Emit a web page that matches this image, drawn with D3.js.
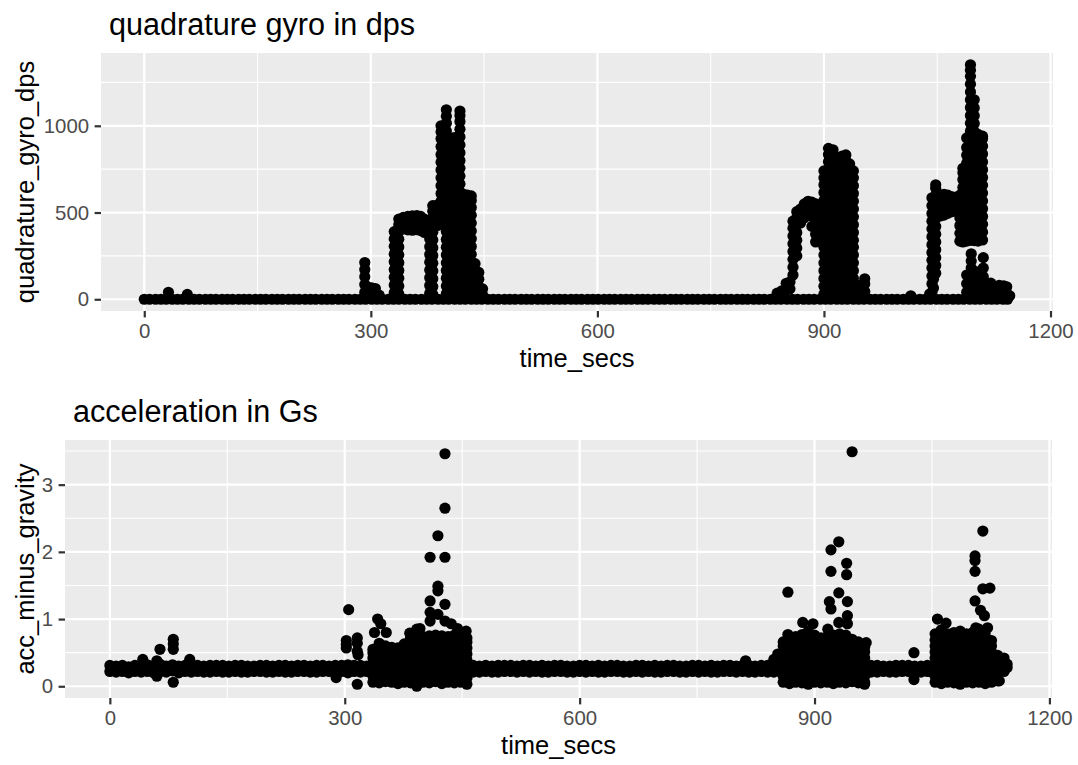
<!DOCTYPE html>
<html>
<head>
<meta charset="utf-8">
<script src="https://cdn.jsdelivr.net/npm/d3@7"></script>
<style>
  body { margin: 0; background: #fff; }
  svg { display: block; font-family: "Liberation Sans", Arial, sans-serif; }
</style>
</head>
<body>
<div id="chart"></div>
<script>
// ---- data (time in seconds) ----

// x tick labels shared by both panels
const timeTicks = [0, 300, 600, 900, 1200];
const gyroTicks = [0, 500, 1000];
const accTicks = [0, 1, 2, 3];

// samples where the gyro reads 0 dps (the flat run along the bottom)
const gyroRestTimes = [0, 7, 15, 22, 29, 37, 44, 51, 59, 66, 73, 81, 88, 95, 103, 110, 117, 125, 132, 139,
  147, 154, 161, 169, 176, 183, 191, 198, 205, 213, 220, 227, 235, 242, 249, 257, 264, 271, 279, 286,
  293, 301, 308, 315, 323, 330, 337, 345, 352, 359, 367, 374, 381, 389, 396, 403, 411, 418, 425, 433,
  440, 447, 455, 462, 469, 477, 484, 491, 499, 506, 513, 521, 528, 535, 543, 550, 557, 565, 572, 579,
  587, 594, 601, 609, 616, 623, 631, 638, 645, 653, 660, 667, 675, 682, 689, 697, 704, 711, 719, 726,
  733, 741, 748, 755, 763, 770, 777, 785, 792, 799, 807, 814, 821, 829, 836, 843, 851, 858, 865, 873,
  880, 887, 895, 902, 909, 917, 924, 931, 939, 946, 953, 961, 968, 975, 983, 990, 997, 1005, 1012, 1019,
  1027, 1034, 1041, 1049, 1056, 1063, 1071, 1078, 1085, 1093, 1100, 1107, 1115, 1122, 1129, 1137, 1143];

// [time, dps readings at that time ...]
const gyroBlips = [[32, 40], [57, 28], [1015, 20]];

const gyroBurst1 = [
  [292, 40, 85, 130, 172, 212], [296, 35, 70], [301, 30, 66], [306, 28, 62], [311, 24],
  [331, 38, 82, 127, 171, 216, 260, 305, 348, 390],
  [337, 30, 76, 121, 166, 211, 256, 301, 346, 391, 430, 462],
  [343, 405, 448, 472], [349, 400, 442, 478], [355, 398, 440, 481], [361, 401, 443, 482],
  [366, 396, 438, 478], [371, 385, 425, 462],
  [378, 35, 80, 124, 169, 214, 258, 303, 347, 390, 430],
  [382, 28, 73, 118, 163, 208, 252, 297, 342, 386, 428, 470, 508, 540],
  [388, 425, 468, 510, 543],
  [393, 430, 475, 520, 565, 610, 655, 700, 745, 790, 835, 880, 925, 965, 1000],
  [400, 32, 76, 121, 166, 210, 255, 300, 345, 390, 434, 479, 524, 569, 613, 658, 703, 748, 792, 837, 882, 926, 970, 1015, 1055, 1092],
  [405, 25, 70, 115, 160, 205, 250, 295, 340, 385, 430, 475, 520, 565, 610, 655, 700, 745, 790, 835, 880, 920],
  [409, 30, 75, 120, 165, 210, 255, 300, 345, 390, 435, 480, 525, 570, 615, 660, 705, 750, 795, 840, 885, 930],
  [414, 28, 73, 118, 163, 208, 253, 298, 343, 388, 433, 478, 523, 568, 613, 658, 703, 748, 793, 838, 883, 935],
  [418, 35, 80, 125, 170, 215, 260, 305, 350, 395, 440, 485, 530, 575, 620, 665, 710, 755, 800, 845, 890, 935, 980, 1025, 1060, 1085],
  [423, 30, 75, 120, 165, 210, 255, 300, 345, 390, 435, 480, 525, 570, 605],
  [428, 26, 71, 116, 161, 206, 251, 296, 341, 386, 431, 476, 521, 566, 600],
  [433, 34, 79, 124, 169, 214, 259, 304, 349, 394, 439, 484, 529, 570, 596],
  [438, 30, 75, 120, 165, 205], [443, 28, 70, 115, 155], [448, 25, 60]
];

const gyroBurst2 = [
  [838, 35], [844, 48], [850, 55, 92], [855, 60, 100],
  [859, 140, 185, 230, 275, 320, 365, 410, 450],
  [864, 250, 295, 340, 385, 430, 470, 505],
  [869, 440, 480, 520], [874, 470, 510, 550], [879, 490, 530, 565], [884, 420, 480, 520, 560],
  [889, 330, 375, 420, 465, 510, 550], [894, 335, 378, 420, 462, 505, 545],
  [900, 30, 75, 120, 165, 210, 255, 300, 345, 390, 435, 480, 525, 570, 615, 660, 700, 740],
  [906, 28, 73, 118, 163, 208, 253, 298, 343, 388, 433, 478, 523, 568, 613, 658, 703, 748, 793, 835, 870],
  [912, 32, 77, 122, 167, 212, 257, 302, 347, 392, 437, 482, 527, 572, 617, 662, 707, 752, 797, 840, 862],
  [918, 26, 71, 116, 161, 206, 251, 296, 341, 386, 431, 476, 521, 566, 611, 656, 701, 746, 790, 812],
  [924, 30, 75, 120, 165, 210, 255, 300, 345, 390, 435, 480, 525, 570, 615, 660, 705, 750, 795, 825],
  [929, 34, 79, 124, 169, 214, 259, 304, 349, 394, 439, 484, 529, 574, 619, 664, 709, 754, 799, 832],
  [934, 28, 73, 118, 163, 208, 253, 298, 343, 388, 433, 478, 523, 568, 613, 658, 703, 748, 780],
  [939, 30, 75, 120, 165, 210, 255, 300, 340, 385, 430, 475, 520, 565, 610, 655, 700, 740],
  [948, 40, 80], [954, 45, 88, 118]
];

const gyroBurst3 = [
  [1040, 30], [1045, 65, 115, 150],
  [1043, 40, 90, 135, 180, 225, 270, 315, 360, 405, 450, 495, 540, 585],
  [1048, 150, 195, 240, 285, 330, 375, 420, 465, 510, 555, 600, 640, 660],
  [1054, 480, 525, 570, 600], [1059, 485, 530, 575, 605], [1064, 495, 540, 585, 600],
  [1070, 505, 550, 590], [1075, 520, 560, 588],
  [1080, 335, 380, 425, 470, 515, 560, 600],
  [1084, 330, 375, 420, 465, 510, 555, 600, 645, 690, 730, 755],
  [1089, 335, 380, 425, 470, 515, 560, 605, 650, 695, 740, 785, 830, 875, 930],
  [1094, 340, 385, 430, 475, 520, 565, 610, 655, 700, 745, 790, 835, 880, 925, 970, 1015, 1060, 1105, 1150, 1195, 1240, 1285, 1320, 1352],
  [1099, 338, 383, 428, 473, 518, 563, 608, 653, 698, 743, 788, 833, 878, 923, 968, 1013, 1058, 1103, 1150],
  [1104, 335, 380, 425, 470, 515, 560, 605, 650, 695, 740, 785, 830, 875, 920, 950],
  [1110, 342, 387, 432, 477, 522, 567, 612, 657, 702, 747, 792, 837, 882, 925, 940],
  [1089, 40, 90, 140], [1095, 40, 92, 140, 180, 220, 262], [1101, 45, 95, 130, 160],
  [1106, 40, 88], [1111, 42, 85, 130, 180, 240], [1116, 38, 90], [1121, 45, 93],
  [1127, 30, 62], [1132, 40, 80], [1138, 42, 78], [1142, 35, 72], [1146, 20]
];

// acceleration (G) : the resting band, [time, low, high]
const accRest = [
  [0, 0.22, 0.31], [8, 0.21, 0.30], [16, 0.22, 0.31], [24, 0.20, 0.29], [32, 0.22, 0.31], [40, 0.21, 0.30],
  [48, 0.22, 0.32], [56, 0.20, 0.30], [64, 0.22, 0.33], [72, 0.21, 0.30], [80, 0.23, 0.32], [88, 0.20, 0.30],
  [96, 0.22, 0.31], [104, 0.21, 0.31], [112, 0.22, 0.31], [120, 0.21, 0.30], [128, 0.21, 0.31], [136, 0.22, 0.31],
  [144, 0.21, 0.31], [152, 0.21, 0.30], [160, 0.22, 0.31], [168, 0.21, 0.31], [176, 0.21, 0.30], [184, 0.22, 0.30],
  [192, 0.22, 0.31], [200, 0.21, 0.31], [208, 0.21, 0.30], [216, 0.22, 0.31], [224, 0.21, 0.31], [232, 0.21, 0.30],
  [240, 0.22, 0.31], [248, 0.22, 0.31], [256, 0.21, 0.30], [264, 0.21, 0.31], [272, 0.22, 0.31], [280, 0.22, 0.30],
  [288, 0.21, 0.31], [296, 0.22, 0.31], [304, 0.20, 0.32], [312, 0.22, 0.31], [320, 0.21, 0.31], [328, 0.22, 0.30],
  [464, 0.21, 0.31], [472, 0.21, 0.30], [480, 0.22, 0.31], [488, 0.21, 0.30], [496, 0.21, 0.31], [504, 0.22, 0.31],
  [512, 0.22, 0.31], [520, 0.21, 0.30], [528, 0.22, 0.31], [536, 0.21, 0.31], [544, 0.22, 0.30], [552, 0.21, 0.31],
  [560, 0.21, 0.30], [568, 0.22, 0.31], [576, 0.22, 0.31], [584, 0.21, 0.30], [592, 0.21, 0.30], [600, 0.22, 0.31],
  [608, 0.21, 0.31], [616, 0.22, 0.30], [624, 0.21, 0.31], [632, 0.21, 0.30], [640, 0.22, 0.31], [648, 0.22, 0.31],
  [656, 0.21, 0.30], [664, 0.21, 0.30], [672, 0.22, 0.31], [680, 0.21, 0.31], [688, 0.22, 0.30], [696, 0.21, 0.31],
  [704, 0.21, 0.30], [712, 0.22, 0.31], [720, 0.22, 0.31], [728, 0.21, 0.30], [736, 0.21, 0.30], [744, 0.22, 0.31],
  [752, 0.21, 0.31], [760, 0.22, 0.30], [768, 0.21, 0.31], [776, 0.21, 0.30], [784, 0.22, 0.31], [792, 0.22, 0.31],
  [800, 0.21, 0.30], [808, 0.22, 0.31], [816, 0.21, 0.31], [824, 0.21, 0.30], [832, 0.22, 0.31], [840, 0.21, 0.31],
  [848, 0.21, 0.30], [856, 0.22, 0.31],
  [972, 0.21, 0.31], [980, 0.21, 0.31], [988, 0.22, 0.30], [996, 0.21, 0.30], [1004, 0.21, 0.31], [1012, 0.22, 0.31],
  [1020, 0.22, 0.31], [1028, 0.21, 0.30], [1036, 0.21, 0.30], [1044, 0.22, 0.31], [1050, 0.21, 0.30]
];

// [time, G readings at that time ...]
const accBlips = [
  [42, 0.40], [60, 0.15, 0.38], [64, 0.55], [81, 0.06, 0.55, 0.63, 0.70], [102, 0.40],
  [289, 0.13], [302, 0.57, 0.62, 0.68], [316, 0.03, 0.52, 0.64, 0.72], [317, 0.47],
  [812, 0.38], [848, 0.33, 0.40], [853, 0.41, 0.48], [1027, 0.10, 0.50]
];

const accBurst1 = [
  [336, 0.06, 0.15, 0.24, 0.33, 0.42, 0.50, 0.55],
  [344, 0.05, 0.14, 0.23, 0.32, 0.41, 0.50, 0.59, 0.64],
  [352, 0.07, 0.16, 0.25, 0.34, 0.43, 0.52, 0.60],
  [360, 0.06, 0.15, 0.24, 0.33, 0.42, 0.51, 0.58],
  [368, 0.04, 0.13, 0.22, 0.31, 0.40, 0.49, 0.57],
  [376, 0.06, 0.15, 0.24, 0.33, 0.42, 0.51, 0.60, 0.63],
  [384, 0.05, 0.14, 0.23, 0.32, 0.41, 0.50, 0.59, 0.68, 0.72],
  [392, 0.00, 0.08, 0.17, 0.26, 0.35, 0.44, 0.53, 0.62, 0.71],
  [400, 0.06, 0.15, 0.24, 0.33, 0.42, 0.51, 0.60, 0.69, 0.74],
  [408, 0.05, 0.14, 0.23, 0.32, 0.41, 0.50, 0.59, 0.68, 0.75],
  [416, 0.07, 0.16, 0.25, 0.34, 0.43, 0.52, 0.61, 0.70, 0.76],
  [424, 0.04, 0.13, 0.22, 0.31, 0.40, 0.49, 0.58, 0.67, 0.75],
  [432, 0.06, 0.15, 0.24, 0.33, 0.42, 0.51, 0.60, 0.69, 0.74],
  [440, 0.05, 0.14, 0.23, 0.32, 0.41, 0.50, 0.59, 0.68, 0.76],
  [448, 0.06, 0.15, 0.24, 0.33, 0.42, 0.51, 0.60, 0.69, 0.75],
  [456, 0.03, 0.12, 0.21, 0.30, 0.39, 0.48, 0.57, 0.66, 0.72]
];

const accBurst2 = [
  [860, 0.06, 0.15, 0.24, 0.33, 0.42, 0.51, 0.60, 0.66],
  [868, 0.04, 0.13, 0.22, 0.31, 0.40, 0.49, 0.58, 0.67, 0.72],
  [876, 0.06, 0.15, 0.24, 0.33, 0.42, 0.51, 0.60, 0.69, 0.74],
  [884, 0.05, 0.14, 0.23, 0.32, 0.41, 0.50, 0.59, 0.68, 0.77],
  [892, 0.03, 0.12, 0.21, 0.30, 0.39, 0.48, 0.57, 0.66, 0.75, 0.82],
  [900, 0.06, 0.15, 0.24, 0.33, 0.42, 0.51, 0.60, 0.69, 0.76],
  [908, 0.05, 0.14, 0.23, 0.32, 0.41, 0.50, 0.59, 0.68, 0.72],
  [916, 0.06, 0.15, 0.24, 0.33, 0.42, 0.51, 0.60, 0.69, 0.74],
  [924, 0.04, 0.13, 0.22, 0.31, 0.40, 0.49, 0.58, 0.67, 0.76],
  [932, 0.06, 0.15, 0.24, 0.33, 0.42, 0.51, 0.60, 0.69, 0.78],
  [940, 0.05, 0.14, 0.23, 0.32, 0.41, 0.50, 0.59, 0.68, 0.76],
  [948, 0.07, 0.16, 0.25, 0.34, 0.43, 0.52, 0.61, 0.70],
  [956, 0.05, 0.14, 0.23, 0.32, 0.41, 0.50, 0.59, 0.66],
  [964, 0.06, 0.15, 0.24, 0.33, 0.42, 0.51, 0.58]
];

const accBurst3 = [
  [1054, 0.06, 0.15, 0.24, 0.33, 0.42, 0.51, 0.60, 0.69, 0.78],
  [1062, 0.04, 0.13, 0.22, 0.31, 0.40, 0.49, 0.58, 0.67, 0.76, 0.84],
  [1070, 0.06, 0.15, 0.24, 0.33, 0.42, 0.51, 0.60, 0.69, 0.78],
  [1078, 0.05, 0.14, 0.23, 0.32, 0.41, 0.50, 0.59, 0.68, 0.77, 0.80],
  [1086, 0.03, 0.12, 0.21, 0.30, 0.39, 0.48, 0.57, 0.66, 0.75, 0.82],
  [1094, 0.06, 0.15, 0.24, 0.33, 0.42, 0.51, 0.60, 0.69, 0.78],
  [1102, 0.05, 0.14, 0.23, 0.32, 0.41, 0.50, 0.59, 0.68, 0.77, 0.80],
  [1110, 0.06, 0.15, 0.24, 0.33, 0.42, 0.51, 0.60, 0.69, 0.78, 0.85],
  [1118, 0.04, 0.13, 0.22, 0.31, 0.40, 0.49, 0.58, 0.67, 0.76, 0.82],
  [1126, 0.06, 0.15, 0.24, 0.33, 0.42, 0.51, 0.60, 0.68],
  [1134, 0.08, 0.22, 0.30, 0.38, 0.46],
  [1142, 0.22, 0.30, 0.36, 0.42],
  [1146, 0.28, 0.33]
];

// isolated spikes above the bursts, [time, G]
const accSpikes = [
  [305, 1.14], [409, 1.92], [409, 1.27], [409, 1.10], [409, 0.97], [419, 2.24], [419, 1.49], [419, 1.42],
  [419, 1.07], [428, 3.46], [428, 2.65], [428, 1.92], [428, 1.22], [428, 0.97], [342, 1.00], [346, 0.93],
  [338, 0.80], [353, 0.80], [383, 0.79], [392, 0.85], [396, 0.86], [436, 0.93], [444, 0.86], [455, 0.82],
  [948, 3.49], [931, 2.15], [921, 2.03], [941, 1.83], [921, 1.71], [941, 1.66], [866, 1.40], [931, 1.39],
  [942, 1.26], [919, 1.26], [921, 1.15], [942, 1.05], [931, 0.95], [885, 0.95], [898, 0.93], [917, 0.85],
  [942, 0.93], [866, 0.77], [966, 0.65], [964, 0.03],
  [1115, 2.31], [1105, 1.94], [1105, 1.87], [1105, 1.71], [1115, 1.45], [1124, 1.46], [1105, 1.27],
  [1112, 1.13], [1117, 1.05], [1057, 1.00], [1068, 0.94], [1106, 0.87], [1121, 0.87], [1136, 0.08]
];

// ---- unpack [time, v1, v2 ...] columns into points ----
const unpack = cols => cols.flatMap(([t, ...vs]) => vs.map(v => ({ t, v })));

const gyroPoints = [
  ...gyroRestTimes.map(t => ({ t, v: 0 })),
  ...unpack(gyroBlips),
  ...unpack(gyroBurst1),
  ...unpack(gyroBurst2),
  ...unpack(gyroBurst3)
];

const accPoints = [
  ...unpack(accRest),
  ...unpack(accBlips),
  ...unpack(accBurst1),
  ...unpack(accBurst2),
  ...unpack(accBurst3),
  ...unpack(accSpikes)
];

const W = 1078, H = 765;
const svg = d3.select('#chart').append('svg')
  .attr('width', W)
  .attr('height', H);

svg.append('rect').attr('width', W).attr('height', H).attr('fill', '#ffffff');

// ggplot-like 5% expansion of a data range
const expand = ext => {
  const pad = (ext[1] - ext[0]) * 0.05;
  return [ext[0] - pad, ext[1] + pad];
};

function drawPanel(cfg) {
  const { points, box, yTicks, title, yLabel } = cfg;

  const x = d3.scaleLinear()
    .domain(expand(d3.extent(points, d => d.t)))
    .range([box.left, box.right]);

  const y = d3.scaleLinear()
    .domain(expand(d3.extent(points, d => d.v)))
    .range([box.bottom, box.top]);

  const g = svg.append('g');

  // panel background
  g.append('rect')
    .attr('x', box.left)
    .attr('y', box.top)
    .attr('width', box.right - box.left)
    .attr('height', box.bottom - box.top)
    .attr('fill', '#ebebeb');

  // minor grid sits halfway between major ticks
  const mid = ticks => {
    const step = ticks[1] - ticks[0];
    return [ticks[0] - step / 2, ...ticks.map(d => d + step / 2)];
  };
  const inX = d => x(d) >= box.left && x(d) <= box.right;
  const inY = d => y(d) >= box.top && y(d) <= box.bottom;

  g.selectAll('.xminor').data(mid(timeTicks).filter(inX)).join('line')
    .attr('x1', d => x(d)).attr('x2', d => x(d))
    .attr('y1', box.top).attr('y2', box.bottom)
    .attr('stroke', '#ffffff').attr('stroke-width', 1.1);

  g.selectAll('.yminor').data(mid(yTicks).filter(inY)).join('line')
    .attr('y1', d => y(d)).attr('y2', d => y(d))
    .attr('x1', box.left).attr('x2', box.right)
    .attr('stroke', '#ffffff').attr('stroke-width', 1.1);

  g.selectAll('.xmajor').data(timeTicks.filter(inX)).join('line')
    .attr('x1', d => x(d)).attr('x2', d => x(d))
    .attr('y1', box.top).attr('y2', box.bottom)
    .attr('stroke', '#ffffff').attr('stroke-width', 2.2);

  g.selectAll('.ymajor').data(yTicks).join('line')
    .attr('y1', d => y(d)).attr('y2', d => y(d))
    .attr('x1', box.left).attr('x2', box.right)
    .attr('stroke', '#ffffff').attr('stroke-width', 2.2);

  // points
  g.append('g')
    .selectAll('circle')
    .data(points)
    .join('circle')
    .attr('cx', d => x(d.t))
    .attr('cy', d => y(d.v))
    .attr('r', 5.6)
    .attr('fill', '#000000');

  // axes, labels printed plainly (no thousands separator, no forced decimals)
  const xAxis = d3.axisBottom(x)
    .tickValues(timeTicks)
    .tickFormat(d => String(d))
    .tickSize(6.4)
    .tickPadding(6);

  const yAxis = d3.axisLeft(y)
    .tickValues(yTicks)
    .tickFormat(d => String(d))
    .tickSize(6.4)
    .tickPadding(5.5);

  const gx = g.append('g')
    .attr('transform', `translate(0,${box.bottom})`)
    .call(xAxis);

  const gy = g.append('g')
    .attr('transform', `translate(${box.left},0)`)
    .call(yAxis);

  [gx, gy].forEach(ax => {
    ax.select('.domain').remove();
    ax.selectAll('.tick line').attr('stroke', '#333333').attr('stroke-width', 2.2);
    ax.selectAll('.tick text')
      .attr('fill', '#4d4d4d')
      .style('font-size', '20.4px')
      .style('font-family', '"Liberation Sans", Arial, sans-serif');
  });

  // titles
  g.append('text')
    .attr('x', box.left + 8)
    .attr('y', box.top - 18)
    .style('font-size', '30.6px')
    .attr('fill', '#000000')
    .text(title);

  g.append('text')
    .attr('x', (box.left + box.right) / 2)
    .attr('y', box.bottom + 56)
    .attr('text-anchor', 'middle')
    .style('font-size', '25.5px')
    .attr('fill', '#000000')
    .text('time_secs');

  g.append('text')
    .attr('transform', `translate(34,${(box.top + box.bottom) / 2}) rotate(-90)`)
    .attr('text-anchor', 'middle')
    .style('font-size', '25.5px')
    .attr('fill', '#000000')
    .text(yLabel);
}

drawPanel({
  points: gyroPoints,
  box: { left: 101, right: 1053, top: 53, bottom: 311 },
  yTicks: gyroTicks,
  title: 'quadrature gyro in dps',
  yLabel: 'quadrature_gyro_dps'
});

drawPanel({
  points: accPoints,
  box: { left: 65, right: 1052, top: 440, bottom: 698 },
  yTicks: accTicks,
  title: 'acceleration in Gs',
  yLabel: 'acc_minus_gravity'
});
</script>
</body>
</html>
